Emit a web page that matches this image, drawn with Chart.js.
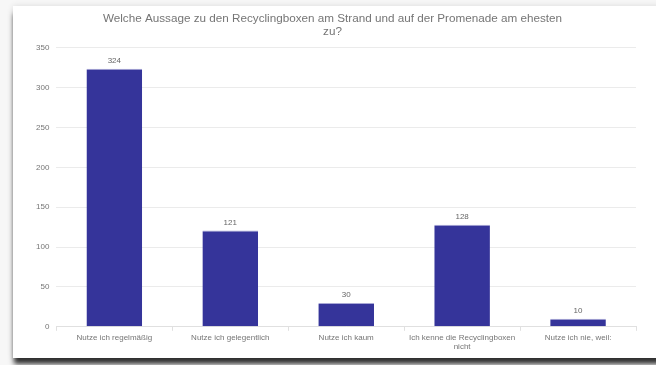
<!DOCTYPE html>
<html><head><meta charset="utf-8">
<script src="https://cdn.jsdelivr.net/npm/chart.js@4"></script>
<style>
html,body{margin:0;padding:0;width:656px;height:365px;overflow:hidden;background:#f7f7f7;}
#card{position:absolute;left:13px;top:6px;width:660px;height:352px;background:#fff;
box-shadow:0 7px 5px -1px rgba(0,0,0,0.8),0 0 6px rgba(0,0,0,0.12);}
#wrap{position:absolute;left:13px;top:6px;width:640px;height:352px;}
</style></head>
<body><div id="card"></div><div id="wrap"><canvas id="c"></canvas></div>
<script>
const titleLines = ["Welche Aussage zu den Recyclingboxen am Strand und auf der Promenade am ehesten", "zu?"];
const categories = ["Nutze ich regelmäßig", "Nutze ich gelegentlich", "Nutze ich kaum", ["Ich kenne die Recyclingboxen", "nicht"], "Nutze ich nie, weil:"];
const values = [324, 121, 30, 128, 10];
const yTicks = [0, 50, 100, 150, 200, 250, 300, 350];

const labelPlugin = {
  id: 'valLabels',
  afterDatasetsDraw(chart) {
    const ctx = chart.ctx;
    const meta = chart.getDatasetMeta(0);
    ctx.save();
    ctx.font = '8px "Liberation Sans", Arial, sans-serif';
    ctx.fillStyle = '#666';
    ctx.textAlign = 'center';
    ctx.textBaseline = 'bottom';
    meta.data.forEach((el, i) => {
      ctx.fillText(String(values[i]), el.x, el.y - 4);
    });
    ctx.restore();
  }
};

new Chart(document.getElementById('c'), {
  type: 'bar',
  data: {
    labels: categories,
    datasets: [{
      data: values,
      backgroundColor: '#35349a',
      borderColor: '#a9a8d6',
      borderWidth: {top: 1, left: 0, right: 0, bottom: 0},
      borderSkipped: 'bottom',
      barPercentage: 0.6,
      categoryPercentage: 0.8
    }]
  },
  options: {
    responsive: true,
    maintainAspectRatio: false,
    animation: false,
    devicePixelRatio: 1,
    layout: {padding: {left: 16, right: 17, top: 2, bottom: 4}},
    plugins: {
      legend: {display: false},
      tooltip: {enabled: false},
      title: {
        display: true,
        text: titleLines,
        color: '#757575',
        font: {family: '"Liberation Sans", Arial, sans-serif', size: 11.7, weight: 'normal', lineHeight: 1.15},
        padding: {top: 4, bottom: 9}
      }
    },
    scales: {
      x: {
        grid: {display: true, drawOnChartArea: false, drawTicks: true, tickLength: 4, color: '#e0e0e0'},
        border: {color: '#e0e0e0'},
        ticks: {color: '#757575', font: {family: '"Liberation Sans", Arial, sans-serif', size: 8, lineHeight: 1.2}, maxRotation: 0, autoSkip: false, padding: 2}
      },
      y: {
        min: 0, max: 350,
        afterBuildTicks(axis) { axis.ticks = yTicks.map(v => ({value: v})); },
        grid: {color: '#ebebeb', drawTicks: false, lineWidth: 1},
        border: {display: false},
        ticks: {color: '#757575', font: {family: '"Liberation Sans", Arial, sans-serif', size: 8}, padding: 7}
      }
    }
  },
  plugins: [labelPlugin]
});
</script></body></html>
